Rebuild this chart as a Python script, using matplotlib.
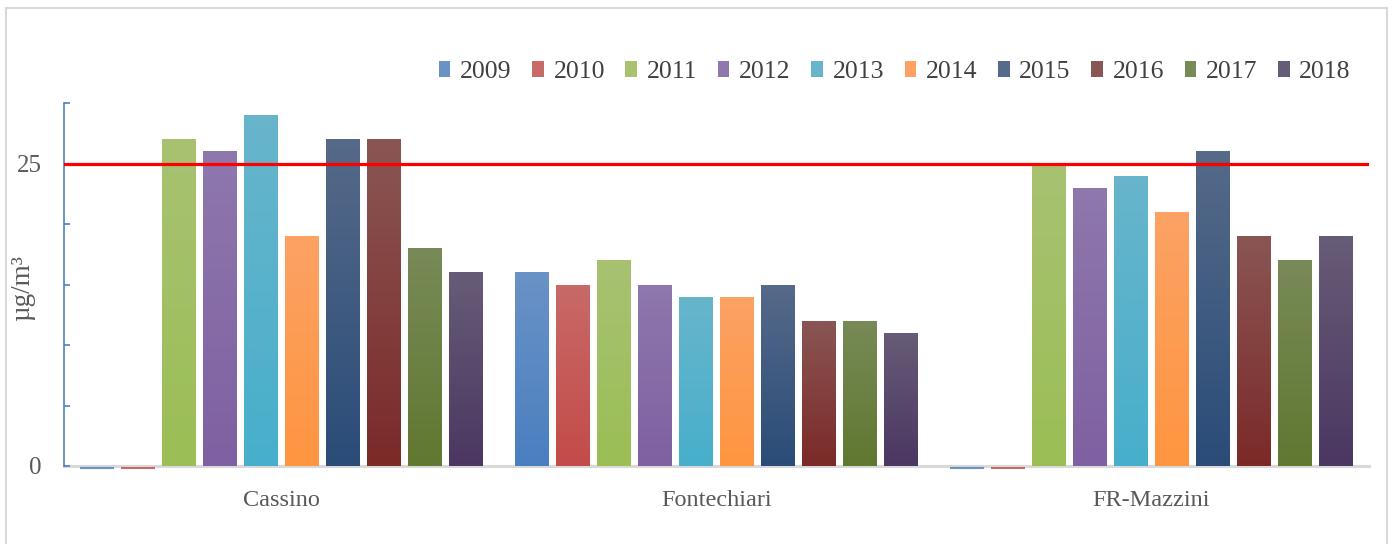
import numpy as np
import matplotlib.pyplot as plt
import matplotlib.transforms as mtransforms
from matplotlib.colors import to_rgb, LinearSegmentedColormap
from matplotlib.patches import Rectangle, Patch

plt.rcParams['font.family'] = ['Liberation Serif', 'DejaVu Serif']

stations = ['Cassino', 'Fontechiari', 'FR-Mazzini']
years = ['2009', '2010', '2011', '2012', '2013', '2014', '2015', '2016', '2017', '2018']
# annual mean per station, one list per year (Cassino, Fontechiari, FR-Mazzini)
values = {
    '2009': [0, 16, 0],
    '2010': [0, 15, 0],
    '2011': [27, 17, 25],
    '2012': [26, 15, 23],
    '2013': [29, 14, 24],
    '2014': [19, 14, 21],
    '2015': [27, 15, 26],
    '2016': [27, 12, 19],
    '2017': [18, 12, 17],
    '2018': [16, 11, 19],
}
limit = 25

# bottom / top colour of each bar's vertical gradient
bottoms = ['#4A7FC0', '#C34B48', '#9BBE55', '#7F60A2', '#47AFCB',
           '#FF9540', '#2A4C78', '#7B2A28', '#607830', '#4B3762']
tops = ['#6A92C6', '#C86A68', '#A8C272', '#8E78AC', '#68B5CB',
        '#FBA264', '#566A89', '#8A5654', '#788A58', '#675C77']

fig = plt.figure(figsize=(13.93, 5.44), dpi=100)
ax = fig.add_axes([64/1393, 1-466/544, 1305/1393, 363/544])

# outer chart frame
fig.patches.append(Rectangle((6/1393, -0.1), 1381/1393, 1.1 - 8/544,
                             transform=fig.transFigure, fill=False,
                             edgecolor='#D9D9D9', linewidth=1.5))

x = np.arange(len(stations))
step = 41/435
width = 34/435
down = mtransforms.offset_copy(ax.transData, fig=fig, x=0, y=-2, units='dots')

for i, yr in enumerate(years):
    xs = x + (i - 4.5) * step
    cmap = LinearSegmentedColormap.from_list(yr, [to_rgb(bottoms[i]), to_rgb(tops[i])])
    grad = np.linspace(0, 1, 256).reshape(-1, 1)
    for xc, v in zip(xs, values[yr]):
        if v == 0:
            ax.bar(xc, 0, width, color=tops[i], edgecolor=tops[i], linewidth=1.5,
                   transform=down, clip_on=False, zorder=1)
            continue
        bar = ax.bar(xc, v, width, color='none', linewidth=0)[0]
        im = ax.imshow(grad, cmap=cmap, origin='lower', aspect='auto',
                       extent=(xc - width/2, xc + width/2, 0, v), zorder=1)
        im.set_clip_path(bar)

ax.axhline(limit, color='#FF0000', linewidth=2.3, zorder=3)

ax.set_xlim(-0.5, 2.5)
ax.set_ylim(0, 30)
ax.set_yticks(np.arange(0, 31, 5))
ax.set_yticklabels(['0', '', '', '', '', '25', ''])
ax.set_xticks(x)
ax.set_xticklabels(stations)

for s in ['top', 'right']:
    ax.spines[s].set_visible(False)
ax.spines['left'].set_color('#4F81BD')
ax.spines['left'].set_linewidth(1.2)
ax.spines['bottom'].set_color('#D9D9D9')
ax.spines['bottom'].set_linewidth(2.2)
ax.spines['bottom'].set_zorder(0.5)

ax.tick_params(axis='y', direction='in', length=4, width=1.2, color='#4F81BD',
               labelsize=18, labelcolor='#595959', pad=16)
ax.tick_params(axis='x', length=0, labelsize=17.5, labelcolor='#595959', pad=17)

ax.set_ylabel('µg/m³', fontsize=19.5, color='#595959')
ax.yaxis.set_label_coords(-0.022, 0.49)

handles = [Patch(facecolor=tops[i], edgecolor='none') for i in range(len(years))]
fig.legend(handles, years, loc='center right', bbox_to_anchor=(1374/1393, 1-72/544),
           ncol=10, frameon=False, fontsize=18.5, handlelength=0.45, handleheight=0.55,
           handletextpad=0.38, columnspacing=0.8, labelcolor='#404040')

fig.savefig('out.png', dpi=100)
